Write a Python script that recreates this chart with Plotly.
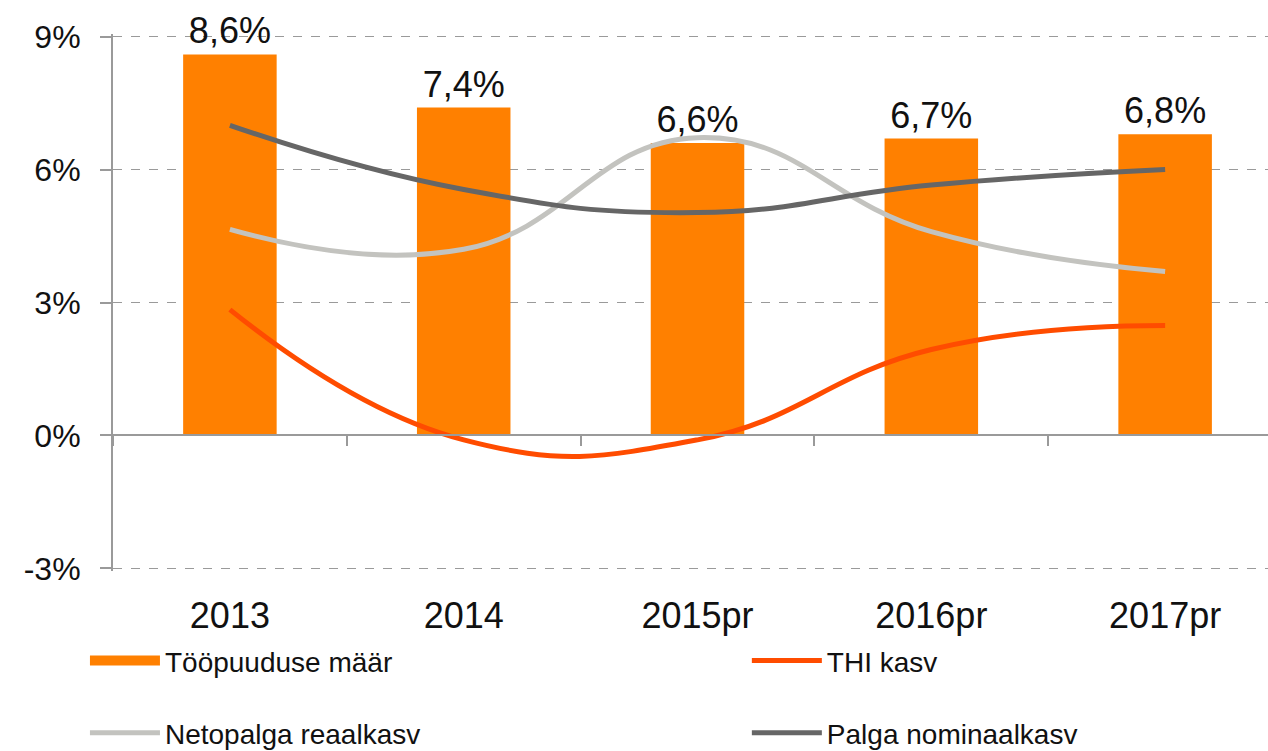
import plotly.graph_objects as go

years = ["2013", "2014", "2015pr", "2016pr", "2017pr"]
tootus = [8.6, 7.4, 6.6, 6.7, 6.8]          # Tööpuuduse määr (bars)
thi = [2.84, -0.1, -0.1, 1.94, 2.48]         # THI kasv
neto = [4.65, 4.2, 6.72, 4.6, 3.7]           # Netopalga reaalkasv
palk = [7.0, 5.55, 5.03, 5.65, 6.0]          # Palga nominaalkasv

y_ticks = [-3, 0, 3, 6, 9]
y_ticktext = ["-3%", "0%", "3%", "6%", "9%"]
y_range = [-3.06, 9.06]
x_range = [-0.5, 4.44]

FONT = "Arial, Liberation Sans, sans-serif"
NARROW = "Arial Narrow, Liberation Sans Narrow, Liberation Sans, sans-serif"
BAR = "#FF8000"
C_THI = "#FF4C00"
C_NETO = "#C3C3BF"
C_PALK = "#666666"
AXIS = "#9A9A9A"
TXT = "#111111"

fig = go.Figure()
fig.add_trace(go.Bar(
    x=years, y=tootus, name="Tööpuuduse määr", marker_color=BAR,
    marker_line_width=0, width=0.4, showlegend=False,
    texttemplate="%{y:.1f}%", textposition="outside", cliponaxis=False,
    textfont=dict(size=36, color=TXT, family=FONT),
))
# legend swatch for the bar series (rectangular like the original)
fig.add_trace(go.Scatter(
    x=[None], y=[None], name="Tööpuuduse määr", mode="lines",
    line=dict(color=BAR, width=18), legend="legend", hoverinfo="skip",
))
fig.add_trace(go.Scatter(
    x=years, y=thi, name="THI kasv", mode="lines",
    line=dict(color=C_THI, width=5, shape="spline", smoothing=1.3),
    legend="legend2",
))
fig.add_trace(go.Scatter(
    x=years, y=neto, name="Netopalga reaalkasv", mode="lines",
    line=dict(color=C_NETO, width=5, shape="spline", smoothing=1.3),
    legend="legend3",
))
fig.add_trace(go.Scatter(
    x=years, y=palk, name="Palga nominaalkasv", mode="lines",
    line=dict(color=C_PALK, width=5, shape="spline", smoothing=1.3),
    legend="legend4",
))
# helper trace so that the zero-line axis (with boundary ticks) is drawn
fig.add_trace(go.Scatter(
    x=years, y=[None] * len(years), xaxis="x2", showlegend=False,
    hoverinfo="skip", mode="lines",
))

zero_pos = (0 - y_range[0]) / (y_range[1] - y_range[0])

def leg(x, y):
    return dict(
        x=x, y=y, xref="container", yref="container",
        orientation="h", xanchor="left", yanchor="middle",
        font=dict(size=28, family=NARROW, color=TXT),
        bgcolor="rgba(0,0,0,0)", itemwidth=70,
    )

fig.update_layout(
    width=1268, height=751,
    margin=dict(l=113, r=0, t=34, b=180),
    paper_bgcolor="white", plot_bgcolor="white",
    separators=", ",
    font=dict(family=FONT, size=34, color=TXT),
    xaxis=dict(
        type="category", range=x_range, showgrid=False, showline=False,
        ticks="", tickfont=dict(size=36, family=FONT, color=TXT),
        ticklabelstandoff=20, zeroline=False, automargin=False,
    ),
    xaxis2=dict(
        type="category", overlaying="x", anchor="free", position=zero_pos,
        range=x_range, showline=True, linecolor=AXIS, linewidth=2,
        ticks="outside", tickson="boundaries", ticklen=10, tickcolor=AXIS,
        tickwidth=1.5, showticklabels=False, showgrid=False, zeroline=False,
        side="bottom", automargin=False,
    ),
    yaxis=dict(
        range=y_range, tickmode="array", tickvals=y_ticks, ticktext=y_ticktext,
        showgrid=True, gridcolor=AXIS, griddash="dash", gridwidth=1.3,
        showline=True, linecolor=AXIS, linewidth=2,
        ticks="outside", ticklen=11, tickcolor=AXIS, tickwidth=1.5,
        ticklabelstandoff=13, zeroline=False, automargin=False,
        tickfont=dict(size=32, family=FONT, color=TXT),
    ),
    legend=leg(0.067, 0.120),
    legend2=leg(0.589, 0.120),
    legend3=leg(0.067, 0.024),
    legend4=leg(0.589, 0.024),
    showlegend=True,
)

fig.write_html(
    "out.html",
    config={"displayModeBar": False},
    post_script="document.body.style.margin='0';",
)
